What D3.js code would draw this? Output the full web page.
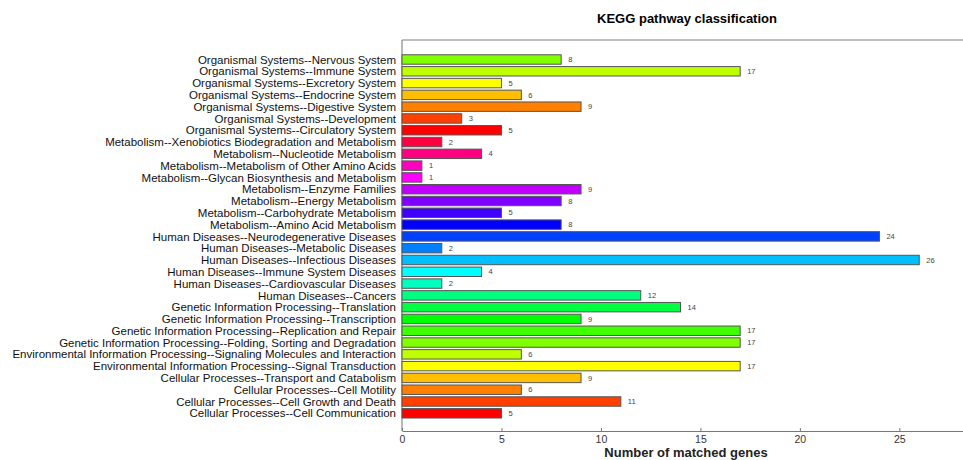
<!DOCTYPE html>
<html>
<head>
<meta charset="utf-8">
<script src="https://cdn.jsdelivr.net/npm/d3@7"></script>
<style>
  body { margin: 0; background: #fff; }
  text { font-family: "Liberation Sans", Arial, sans-serif; }
</style>
</head>
<body>
<script>
// categories, top to bottom
var categories = [
  "Organismal Systems--Nervous System",
  "Organismal Systems--Immune System",
  "Organismal Systems--Excretory System",
  "Organismal Systems--Endocrine System",
  "Organismal Systems--Digestive System",
  "Organismal Systems--Development",
  "Organismal Systems--Circulatory System",
  "Metabolism--Xenobiotics Biodegradation and Metabolism",
  "Metabolism--Nucleotide Metabolism",
  "Metabolism--Metabolism of Other Amino Acids",
  "Metabolism--Glycan Biosynthesis and Metabolism",
  "Metabolism--Enzyme Families",
  "Metabolism--Energy Metabolism",
  "Metabolism--Carbohydrate Metabolism",
  "Metabolism--Amino Acid Metabolism",
  "Human Diseases--Neurodegenerative Diseases",
  "Human Diseases--Metabolic Diseases",
  "Human Diseases--Infectious Diseases",
  "Human Diseases--Immune System Diseases",
  "Human Diseases--Cardiovascular Diseases",
  "Human Diseases--Cancers",
  "Genetic Information Processing--Translation",
  "Genetic Information Processing--Transcription",
  "Genetic Information Processing--Replication and Repair",
  "Genetic Information Processing--Folding, Sorting and Degradation",
  "Environmental Information Processing--Signaling Molecules and Interaction",
  "Environmental Information Processing--Signal Transduction",
  "Cellular Processes--Transport and Catabolism",
  "Cellular Processes--Cell Motility",
  "Cellular Processes--Cell Growth and Death",
  "Cellular Processes--Cell Communication"
];

var geneCounts = [8, 17, 5, 6, 9, 3, 5, 2, 4, 1, 1, 9, 8, 5, 8,
                  24, 2, 26, 4, 2, 12, 14, 9, 17, 17, 6, 17, 9, 6, 11, 5];

var xTicks = [0, 5, 10, 15, 20, 25];

var width = 963, height = 460;

var svg = d3.select("body").append("svg")
  .attr("width", width)
  .attr("height", height);

// plot box
var plotLeft = 402, plotTop = 40, plotBottom = 431;

var x = d3.scaleLinear()
  .domain([0, 28.2])
  .range([plotLeft, width]);

var y = d3.scaleBand()
  .domain(categories)
  .range([53.6, 419.2])
  .paddingInner(0.2)
  .paddingOuter(0.1);

// rainbow colours, 15 degrees apart, red at the bottom
var barColor = function(i) {
  var hue = ((categories.length - 1 - i) * 15) % 360;
  return d3.hsl(hue, 1, 0.5).toString();
};

// title
svg.append("text")
  .attr("x", 687)
  .attr("y", 23)
  .attr("text-anchor", "middle")
  .style("font-size", "13px")
  .style("font-weight", "bold")
  .text("KEGG pathway classification");

// frame lines
svg.append("line")
  .attr("x1", plotLeft).attr("x2", width)
  .attr("y1", plotTop).attr("y2", plotTop)
  .attr("stroke", "#a8a8a8")
  .attr("stroke-width", 1.5);

svg.append("line")
  .attr("x1", plotLeft).attr("x2", plotLeft)
  .attr("y1", plotTop).attr("y2", plotBottom)
  .attr("stroke", "#888")
  .attr("stroke-width", 1.2);

// x axis
var xAxis = svg.append("g")
  .attr("transform", "translate(0," + plotBottom + ")")
  .call(d3.axisBottom(x)
    .tickValues(xTicks)
    .tickSizeInner(-3)
    .tickSizeOuter(0)
    .tickPadding(5));

xAxis.select(".domain").attr("stroke", "#777");
xAxis.selectAll(".tick line").attr("stroke", "#777");
xAxis.selectAll(".tick text")
  .attr("fill", "#333")
  .style("font-size", "10.5px")
  .style("font-family", "Liberation Sans, Arial, sans-serif");

svg.append("text")
  .attr("x", 686)
  .attr("y", 457)
  .attr("text-anchor", "middle")
  .style("font-size", "13px")
  .style("font-weight", "bold")
  .attr("fill", "#222")
  .text("Number of matched genes");

// bars
svg.append("g")
  .selectAll("rect")
  .data(geneCounts)
  .enter()
  .append("rect")
  .attr("x", x(0))
  .attr("y", function(d, i) { return y(categories[i]); })
  .attr("width", function(d) { return x(d) - x(0); })
  .attr("height", y.bandwidth())
  .attr("fill", function(d, i) { return barColor(i); })
  .attr("stroke", "#555")
  .attr("stroke-width", 1);

// value labels
svg.append("g")
  .selectAll("text")
  .data(geneCounts)
  .enter()
  .append("text")
  .attr("x", function(d) { return x(d) + 7; })
  .attr("y", function(d, i) { return y(categories[i]) + y.bandwidth() / 2; })
  .attr("dy", "0.35em")
  .style("font-size", "7.5px")
  .attr("fill", "#444")
  .text(function(d) { return d; });

// category labels
svg.append("g")
  .selectAll("text")
  .data(categories)
  .enter()
  .append("text")
  .attr("x", 396)
  .attr("y", function(d) { return y(d) + y.bandwidth() / 2; })
  .attr("dy", "0.36em")
  .attr("text-anchor", "end")
  .style("font-size", "11.5px")
  .attr("fill", "#111")
  .text(function(d) { return d; });
</script>
</body>
</html>
